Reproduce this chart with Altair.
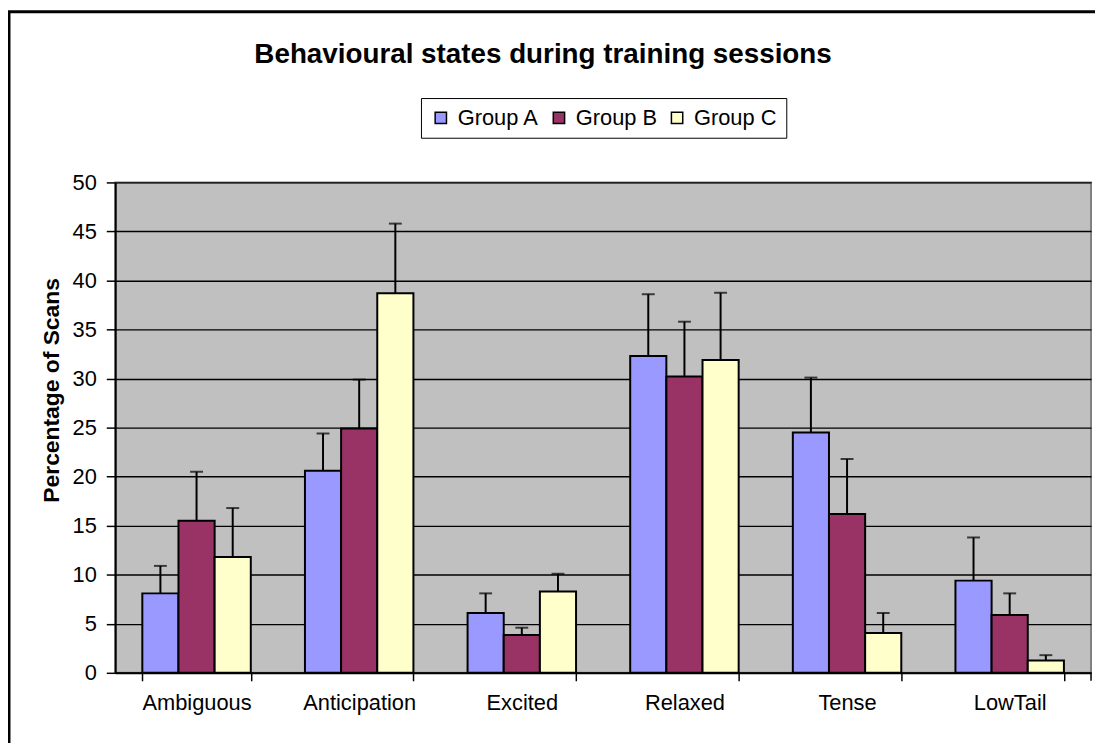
import altair as alt
import pandas as pd

categories = ["Ambiguous", "Anticipation", "Excited", "Relaxed", "Tense", "LowTail"]
groups = ["Group A", "Group B", "Group C"]
colors = ["#9999FF", "#993366", "#FFFFCC"]
title_text = ["Behavioural states during training sessions"]

group_a = [8.1, 20.6, 6.1, 32.3, 24.5, 9.4]
group_a_err = [2.8, 3.8, 2.0, 6.3, 5.6, 4.4]
group_b = [15.5, 24.9, 3.85, 30.2, 16.2, 5.9]
group_b_err = [5.0, 5.0, 0.75, 5.6, 5.6, 2.2]
group_c = [11.8, 38.7, 8.3, 31.9, 4.05, 1.25]
group_c_err = [5.0, 7.1, 1.8, 6.85, 2.05, 0.55]

rows = []
for g, vals, errs in zip(groups, [group_a, group_b, group_c], [group_a_err, group_b_err, group_c_err]):
    for c, v, e in zip(categories, vals, errs):
        rows.append({"category": c, "group": g, "value": v, "top": v + e})
df = pd.DataFrame(rows)
title_df = pd.DataFrame({"t": title_text})

FONT = "Liberation Sans"
W, H = 983, 494
YT = "Percentage of Scans"

xenc = alt.X(
    "category:N",
    sort=categories,
    scale=alt.Scale(paddingInner=0.333, paddingOuter=0.1667),
    axis=alt.Axis(
        title=None, labelAngle=0, labelFontSize=22, labelFont=FONT, labelColor="black",
        domainColor="black", domainWidth=2, tickColor="black", tickWidth=1.5, tickSize=8,
        tickBand="extent", labelPadding=12, grid=False,
    ),
)
xoff = alt.XOffset("group:N", sort=groups)

base = alt.Chart(df).encode(x=xenc, xOffset=xoff)

bars = base.mark_bar(stroke="black", strokeWidth=2).encode(
    y=alt.Y(
        "value:Q",
        title=YT,
        scale=alt.Scale(domain=[0, 50], nice=False),
        axis=alt.Axis(
            values=list(range(0, 51, 5)), labelFontSize=22, labelFont=FONT, labelColor="black",
            domainColor="black", domainWidth=2, tickColor="black", tickWidth=1.5, tickSize=9,
            labelPadding=10, gridColor="black", gridWidth=1.4, gridOpacity=1,
            titleFont=FONT, titleFontSize=23, titleFontWeight="bold", titleColor="black",
            titleX=-64, titleY=209, titleBaseline="middle",
        ),
    ),
    color=alt.Color(
        "group:N",
        scale=alt.Scale(domain=groups, range=colors),
        legend=alt.Legend(
            title=None, orient="none", legendX=308, legendY=-85, direction="horizontal",
            strokeColor="black", fillColor="white", padding=9,
            labelFont=FONT, labelFontSize=22, labelColor="black",
            symbolType="square", symbolSize=130, symbolStrokeColor="black",
            symbolStrokeWidth=1.5, symbolOpacity=1, labelOffset=6, columnPadding=9,
        ),
    ),
)

stems = base.mark_rule(color="black", strokeWidth=2).encode(
    y=alt.Y("value:Q", title=YT), y2="top:Q"
)
caps = base.mark_tick(color="black", thickness=2, size=13, orient="horizontal").encode(
    y=alt.Y("top:Q", title=YT)
)

end_tick = alt.Chart(title_df).mark_rule(color="black", strokeWidth=1.5).encode(
    x=alt.value(W), y=alt.value(H), y2=alt.value(H + 8)
)
border_top = alt.Chart(title_df).mark_rule(color="black", strokeWidth=3).encode(
    x=alt.value(-108), x2=alt.value(W + 20), y=alt.value(-172)
)
border_left = alt.Chart(title_df).mark_rule(color="black", strokeWidth=3).encode(
    x=alt.value(-107), y=alt.value(-172), y2=alt.value(H + 80)
)
title = alt.Chart(title_df).mark_text(
    font=FONT, fontSize=28, fontWeight="bold", color="black", align="center", baseline="alphabetic"
).encode(text="t:N", x=alt.value(431), y=alt.value(-120))

chart = (
    alt.layer(bars, stems, caps, end_tick, border_top, border_left, title)
    .properties(
        width=W,
        height=H,
        autosize=alt.AutoSizeParams(type="none"),
        padding={"left": 108, "top": 173, "right": 4, "bottom": 68},
        background="white",
    )
    .configure_view(fill="#C0C0C0", stroke="#808080", strokeWidth=2)
)

chart.save("out.html", embed_options={"renderer": "svg", "actions": False})
